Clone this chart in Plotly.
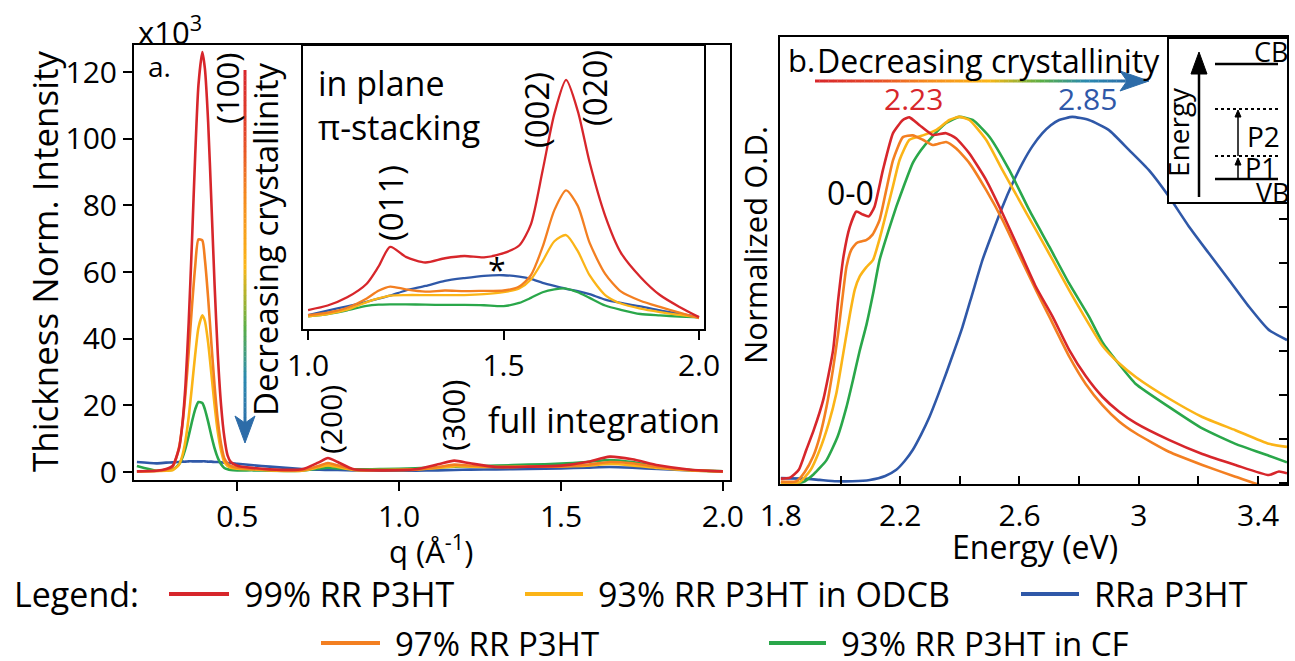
import plotly.graph_objects as go

W, H = 1295, 661
FONT = "Open Sans"

# ---------------- data ----------------
# Panel a: full integration (x10^3)
q_full = [0.19, 0.25, 0.28, 0.30, 0.32, 0.33, 0.34, 0.35, 0.36, 0.37, 0.38, 0.392, 0.40, 0.41, 0.42,
          0.43, 0.44, 0.45, 0.46, 0.47, 0.48, 0.50, 0.55, 0.60, 0.70, 0.75, 0.78, 0.81, 0.86, 0.95,
          1.05, 1.12, 1.17, 1.22, 1.30, 1.40, 1.50, 1.58, 1.65, 1.72, 1.80, 1.90, 2.00]
full_99 = [0.2, 0.4, 0.9, 1.8, 7, 14, 26, 45, 69, 95, 116, 126, 121, 105, 81, 56, 35, 20, 10.5, 5, 3, 1.9,
           1.2, 0.8, 0.8, 2.8, 4.2, 3.0, 0.8, 0.5, 0.8, 2.3, 3.4, 2.6, 1.5, 1.6, 1.9, 3.0, 4.6, 3.8, 2.0, 0.7, 0.2]
full_97 = [0.2, 0.3, 0.7, 1.5, 7.3, 13.8, 23.5, 36, 49.6, 61.7, 69.8, 69.5, 63.7, 52.2, 38.6, 25.8, 15.4, 8.4, 4.1, 2.6, 1.8, 1.3,
           0.9, 0.6, 0.5, 1.8, 2.7, 2.0, 0.7, 0.6, 0.7, 1.5, 2.2, 1.9, 1.5, 1.6, 1.7, 2.2, 3.0, 2.6, 1.5, 0.6, 0.2]
full_93o = [0.2, 0.3, 0.4, 0.5, 2.2, 4.8, 9.4, 16.5, 25.6, 35.2, 43.2, 47, 45.3, 38.8, 29.5, 20, 11.9, 6.4, 3.0, 1.8, 1.3, 1.0,
            0.8, 0.5, 0.4, 1.4, 2.0, 1.5, 0.6, 0.6, 0.8, 1.2, 1.7, 1.6, 1.5, 1.6, 1.7, 1.9, 2.4, 2.0, 1.2, 0.5, 0.2]
full_93c = [1.8, 0.4, 0.5, 0.7, 2.3, 4.2, 7.1, 10.9, 15.1, 18.8, 21, 20.7, 18.8, 15.1, 10.9, 7.1, 4.2, 2.3, 1.2, 0.8, 0.6, 0.5,
            0.5, 0.4, 0.4, 1.0, 1.3, 1.1, 0.8, 0.9, 1.1, 1.4, 1.6, 1.7, 1.9, 2.2, 2.5, 3.0, 3.6, 3.0, 1.6, 0.6, 0.2]
full_rra = [3.0, 2.6, 2.8, 2.9, 3.0, 3.1, 3.1, 3.2, 3.2, 3.2, 3.2, 3.2, 3.2, 3.1, 3.1, 3.0, 3.0, 2.9, 2.8, 2.7, 2.7, 2.5,
            2.0, 1.6, 0.9, 0.7, 0.6, 0.6, 0.5, 0.4, 0.4, 0.5, 0.6, 0.7, 0.8, 0.9, 1.1, 1.3, 1.5, 1.3, 0.9, 0.5, 0.2]

# Panel a inset: in-plane pi-stacking (arb. units)
q_inset = [1.0, 1.05, 1.10, 1.15, 1.18, 1.21, 1.25, 1.30, 1.35, 1.40, 1.45, 1.50, 1.54, 1.57, 1.60,
           1.63, 1.66, 1.69, 1.72, 1.76, 1.80, 1.85, 1.90, 1.95, 2.0]
inset_99 = [6.7, 8.3, 11.2, 16, 22, 29, 25.5, 23.5, 25, 25.8, 25.3, 26.8, 29.5, 37, 56, 76, 88, 77, 59, 40, 27, 18.4, 12, 7.8, 4.2]
inset_97 = [4.9, 5.8, 7.5, 10.8, 13.5, 15, 14, 13.2, 13.6, 13.4, 13.5, 13.6, 15, 19, 29, 42, 49, 43.5, 30.5, 19.5, 13.3, 10, 7.8, 5.8, 3.8]
inset_93o = [4.5, 5.3, 6.8, 9.5, 10.8, 11.8, 12, 12, 12, 12, 12.3, 13, 14.3, 17.5, 24, 31, 33.2, 27.5, 19, 12, 9, 7.2, 6, 5, 4.1]
inset_93c = [4.5, 5.3, 6.6, 8.2, 8.6, 8.7, 8.7, 8.6, 8.5, 8.5, 8.4, 8.1, 9.2, 11, 13, 14, 14.3, 13, 11, 8.3, 6.8, 5.3, 4.8, 4.4, 4.1]
inset_rra = [4.9, 6.5, 8, 9.6, 10.7, 11.8, 13.6, 15.2, 17, 18, 18.8, 19, 18.5, 17.7, 16.3, 15.2, 14.2, 13.4, 12.3, 10.4, 9.2, 8, 6.6, 5.4, 4.2]

# Panel b: absorption
E_99 = [1.80, 1.83, 1.86, 1.885, 1.91, 1.942, 1.975, 1.992, 2.01, 2.031, 2.053, 2.075, 2.095, 2.114, 2.142, 2.176, 2.209,
        2.231, 2.265, 2.309, 2.354, 2.388, 2.432, 2.488, 2.543, 2.599, 2.655, 2.711, 2.767, 2.822, 2.878, 2.934, 2.990,
        3.101, 3.213, 3.324, 3.436, 3.47, 3.497]
OD_99 = [0.010, 0.012, 0.030, 0.075, 0.120, 0.189, 0.302, 0.416, 0.515, 0.582, 0.617, 0.610, 0.606, 0.628, 0.711, 0.795,
         0.825, 0.831, 0.813, 0.791, 0.795, 0.783, 0.749, 0.689, 0.613, 0.530, 0.446, 0.378, 0.302, 0.243, 0.196, 0.162,
         0.136, 0.098, 0.066, 0.041, 0.018, 0.026, 0.022]
E_97 = [1.80, 1.852, 1.88, 1.908, 1.93, 1.953, 1.975, 1.992, 2.008, 2.020, 2.036, 2.053, 2.070, 2.086, 2.108, 2.131, 2.153,
        2.176, 2.209, 2.242, 2.276, 2.309, 2.354, 2.388, 2.432, 2.488, 2.543, 2.599, 2.655, 2.700, 2.767, 2.822, 2.878,
        2.934, 2.990, 3.101, 3.213, 3.324, 3.402, 3.45]
OD_97 = [0.003, 0.004, 0.025, 0.060, 0.105, 0.173, 0.26, 0.34, 0.43, 0.492, 0.530, 0.545, 0.549, 0.552, 0.565, 0.598,
         0.665, 0.734, 0.786, 0.790, 0.780, 0.768, 0.775, 0.760, 0.727, 0.666, 0.598, 0.518, 0.439, 0.378, 0.287, 0.225,
         0.177, 0.140, 0.113, 0.071, 0.041, 0.014, -0.004, -0.02]
E_93o = [1.80, 1.863, 1.90, 1.930, 1.96, 1.986, 2.008, 2.031, 2.048, 2.064, 2.086, 2.109, 2.131, 2.153, 2.176, 2.198,
         2.231, 2.276, 2.320, 2.365, 2.398, 2.432, 2.488, 2.543, 2.599, 2.655, 2.711, 2.766, 2.811, 2.878, 2.934, 2.990,
         3.101, 3.213, 3.324, 3.436, 3.497]
OD_93o = [0.0, 0.002, 0.03, 0.075, 0.135, 0.204, 0.29, 0.382, 0.44, 0.469, 0.490, 0.507, 0.555, 0.613, 0.675, 0.734,
          0.780, 0.790, 0.802, 0.825, 0.832, 0.825, 0.780, 0.711, 0.643, 0.575, 0.507, 0.439, 0.386, 0.312, 0.272,
          0.241, 0.192, 0.150, 0.120, 0.089, 0.082]
E_93c = [1.80, 1.874, 1.91, 1.953, 1.99, 2.020, 2.042, 2.064, 2.087, 2.109, 2.131, 2.160, 2.187, 2.215, 2.242, 2.270,
         2.298, 2.354, 2.398, 2.443, 2.499, 2.566, 2.633, 2.700, 2.766, 2.833, 2.878, 2.934, 2.990, 3.101, 3.213, 3.324,
         3.436, 3.497]
OD_93c = [0.0, 0.002, 0.02, 0.052, 0.105, 0.173, 0.235, 0.300, 0.36, 0.43, 0.507, 0.572, 0.628, 0.680, 0.727, 0.757,
          0.780, 0.818, 0.832, 0.825, 0.787, 0.711, 0.620, 0.537, 0.454, 0.378, 0.320, 0.270, 0.225, 0.173, 0.124,
          0.089, 0.062, 0.047]
E_rra = [1.80, 1.874, 1.93, 1.986, 2.04, 2.098, 2.15, 2.187, 2.215, 2.242, 2.270, 2.298, 2.326, 2.354, 2.382, 2.409,
         2.442, 2.476, 2.510, 2.543, 2.576, 2.610, 2.643, 2.677, 2.705, 2.733, 2.777, 2.833, 2.900, 2.967, 3.034, 3.101,
         3.168, 3.235, 3.302, 3.369, 3.436, 3.497]
OD_rra = [0.011, 0.010, 0.007, 0.004, 0.004, 0.007, 0.016, 0.030, 0.05, 0.075, 0.11, 0.150, 0.198, 0.249, 0.302, 0.355,
          0.43, 0.507, 0.57, 0.628, 0.68, 0.727, 0.765, 0.795, 0.813, 0.825, 0.832, 0.825, 0.802, 0.757, 0.711, 0.651,
          0.583, 0.522, 0.462, 0.401, 0.348, 0.325]

names = ["99% RR P3HT", "97% RR P3HT", "93% RR P3HT in ODCB", "93% RR P3HT in CF", "RRa P3HT"]
colors = ["#d7262b", "#f37f21", "#fbb417", "#2aa74a", "#2f58a8"]

q_ticks = [0.5, 1.0, 1.5, 2.0]
q_inset_ticks = [1.0, 1.5, 2.0]
I_ticks = [0, 20, 40, 60, 80, 100, 120]
E_ticks = [1.8, 2.0, 2.2, 2.4, 2.6, 2.8, 3.0, 3.2, 3.4]
E_ticktext = ["1.8", "", "2.2", "", "2.6", "", "3", "", "3.4"]


def px(x):
    return x / W


def py(y):
    return 1 - y / H


fig = go.Figure()

full = [full_99, full_97, full_93o, full_93c, full_rra]
ins = [inset_99, inset_97, inset_93o, inset_93c, inset_rra]
Es = [E_99, E_97, E_93o, E_93c, E_rra]
ODs = [OD_99, OD_97, OD_93o, OD_93c, OD_rra]
order = [4, 3, 2, 1, 0]

for i in order:
    fig.add_trace(go.Scatter(x=q_full, y=full[i], mode="lines", name=names[i],
                             line=dict(color=colors[i], width=2.6, shape="spline", smoothing=0.6),
                             xaxis="x", yaxis="y", showlegend=False, hoverinfo="skip"))
for i in order:
    fig.add_trace(go.Scatter(x=q_inset, y=ins[i], mode="lines", name=names[i],
                             line=dict(color=colors[i], width=2.3, shape="spline", smoothing=0.7),
                             xaxis="x2", yaxis="y2", showlegend=False, hoverinfo="skip"))
for i in order:
    fig.add_trace(go.Scatter(x=Es[i], y=ODs[i], mode="lines", name=names[i],
                             line=dict(color=colors[i], width=2.6, shape="spline", smoothing=0.5),
                             xaxis="x3", yaxis="y3", showlegend=False, hoverinfo="skip"))

axis_common = dict(showline=True, linecolor="black", linewidth=2, mirror=True, showgrid=False,
                   zeroline=False, tickcolor="black", tickwidth=2, automargin=False,
                   tickfont=dict(family=FONT, size=30, color="black"))

fig.update_layout(
    width=W, height=H, margin=dict(l=0, r=0, t=0, b=0, pad=0, autoexpand=False),
    paper_bgcolor="white", plot_bgcolor="white", showlegend=False,
    font=dict(family=FONT, color="black"),
    xaxis=dict(domain=[px(134), px(730)], range=[0.181, 2.022], anchor="y", ticks="outside", ticklen=9,
               tickvals=q_ticks, ticktext=["%.1f" % v for v in q_ticks], **axis_common),
    yaxis=dict(domain=[py(480), py(45)], range=[-2.4, 128.1], anchor="x", ticks="outside", ticklen=9,
               tickvals=I_ticks, ticktext=[str(v) for v in I_ticks], **axis_common),
    xaxis2=dict(domain=[px(303), px(704)], range=[0.987, 2.0128], anchor="y2", ticks="outside", ticklen=9,
                tickvals=q_inset_ticks, ticktext=["%.1f" % v for v in q_inset_ticks], **axis_common),
    yaxis2=dict(domain=[py(329), py(46)], range=[0, 100], anchor="x2", ticks="", showticklabels=False,
                **axis_common),
    xaxis3=dict(domain=[px(780), px(1287)], range=[1.797, 3.497], anchor="y3", ticks="inside", ticklen=8,
                tickvals=E_ticks, ticktext=E_ticktext, ticklabelstandoff=4, **axis_common),
    yaxis3=dict(domain=[py(484), py(37)], range=[-0.0023, 1.0136], anchor="x3", side="right", ticks="inside",
                ticklen=8, tick0=0, dtick=0.1, showticklabels=False, **axis_common),
)

annotations = []
shapes = []


def text(x, y, s, size=30, color="black", xanchor="center", yanchor="middle", angle=0):
    annotations.append(dict(x=px(x), y=py(y), xref="paper", yref="paper", text=s, showarrow=False,
                            xanchor=xanchor, yanchor=yanchor, textangle=angle,
                            font=dict(family=FONT, size=size, color=color)))


# axis titles
text(44, 261, "Thickness Norm. Intensity", size=35, angle=-90)
text(431, 549, "q (Å<sup>-1</sup>)", size=31)
text(1035, 546, "Energy (eV)", size=32)
text(755, 245, "Normalized O.D.", size=31, angle=-90)
text(136, 30, "x10<sup>3</sup>", size=31, xanchor="left")

# panel a labels
text(146, 66, "a.", size=28, xanchor="left")
text(227, 89, "(100)", size=31, angle=-90)
text(330, 420, "(200)", size=30, angle=-90)
text(453, 416, "(300)", size=31, angle=-90)
text(486, 420, "full integration", size=34, xanchor="left")
text(265, 240, "Decreasing crystallinity", size=33, angle=-90)
# inset labels
text(316, 83, "in plane", size=34, xanchor="left")
text(316, 127, "π-stacking", size=34, xanchor="left")
text(390, 203, "(011)", size=33, angle=-90)
text(537, 110, "(002)", size=33, angle=-90)
text(595, 88, "(020)", size=33, angle=-90)
text(497, 269, "*", size=32)

# panel b labels
text(786, 60, "b.", size=31, xanchor="left")
text(815, 60, "Decreasing crystallinity", size=32, xanchor="left")
text(913, 98, "2.23", size=30, color=colors[0])
text(1087, 98, "2.85", size=30, color=colors[4])
text(850, 193, "0-0", size=32)

# energy diagram
shapes.append(dict(type="rect", xref="paper", yref="paper", x0=px(1168), y0=py(203), x1=px(1288), y1=py(38),
                   fillcolor="white", line=dict(color="black", width=2), layer="above"))


def seg(x0, y0, x1, y1, color="black", width=2, dash=None):
    ln = dict(color=color, width=width)
    if dash:
        ln["dash"] = dash
    shapes.append(dict(type="line", xref="paper", yref="paper", x0=px(x0), y0=py(y0), x1=px(x1), y1=py(y1),
                       line=ln, layer="above"))


def poly(pts, color):
    path = "M " + " L ".join("%f,%f" % (px(a), py(b)) for a, b in pts) + " Z"
    shapes.append(dict(type="path", xref="paper", yref="paper", path=path, fillcolor=color,
                       line=dict(color=color, width=1), layer="above"))


seg(1199, 197, 1199, 68, width=2.5)
poly([(1199, 52), (1191, 74), (1207, 74)], "black")
seg(1215, 64, 1278, 64, width=2.5)
seg(1215, 109, 1278, 109, width=2, dash="dot")
seg(1215, 156, 1278, 156, width=2, dash="dot")
seg(1215, 179, 1278, 179, width=2.5)
seg(1238, 156, 1238, 116, width=1.5)
poly([(1238, 110), (1235, 117), (1241, 117)], "black")
seg(1238, 178, 1238, 164, width=1.5)
poly([(1238, 158), (1235, 165), (1241, 165)], "black")
text(1178, 132, "Energy", size=28, angle=-90)
text(1271, 52, "CB", size=27)
text(1273, 193, "VB", size=27)
text(1263, 136, "P2", size=28)
text(1261, 167, "P1", size=27)


# gradient arrows
def hex2rgb(h):
    h = h.lstrip("#")
    return tuple(int(h[i:i + 2], 16) for i in (0, 2, 4))


def color_at(stops, t):
    for (t0, c0), (t1, c1) in zip(stops[:-1], stops[1:]):
        if t0 <= t <= t1:
            f = (t - t0) / (t1 - t0) if t1 > t0 else 0
            a, b = hex2rgb(c0), hex2rgb(c1)
            return "rgb(%d,%d,%d)" % tuple(round(a[k] + (b[k] - a[k]) * f) for k in range(3))
    return stops[-1][1]


grad_stops = [(0.0, "#d7262b"), (0.18, "#e4462a"), (0.35, "#f5891f"), (0.55, "#fbb617"),
              (0.72, "#5aae46"), (0.86, "#2b8ab0"), (1.0, "#2d6ca8")]


def gradient_line(x0, y0, x1, y1, width=3, n=70):
    for k in range(n):
        t0, t1 = k / n, (k + 1.05) / n
        t1 = min(t1, 1.0)
        seg(x0 + (x1 - x0) * t0, y0 + (y1 - y0) * t0, x0 + (x1 - x0) * t1, y0 + (y1 - y0) * t1,
            color=color_at(grad_stops, (t0 + t1) / 2), width=width)


gradient_line(815, 81, 1130, 81, width=3)
poly([(1149, 81), (1120, 71), (1127, 81), (1120, 91)], "#2d6ca8")
gradient_line(245, 70, 245, 428, width=3)
poly([(245, 443), (235, 416), (245, 423), (255, 416)], "#2d6ca8")

# manual legend
text(12, 594, "Legend:", size=34, xanchor="left")
legend_pos = {0: (169, 229, 594), 2: (525, 583, 594), 4: (1021, 1079, 594), 1: (321, 380, 643), 3: (769, 826, 643)}
for i, (xa, xb, yy) in legend_pos.items():
    seg(xa, yy, xb, yy, color=colors[i], width=4)
    text(xb + 13, yy, names[i], size=33 if yy > 600 else 34, xanchor="left")

fig.update_layout(annotations=annotations, shapes=shapes)
fig.write_html("out.html")
